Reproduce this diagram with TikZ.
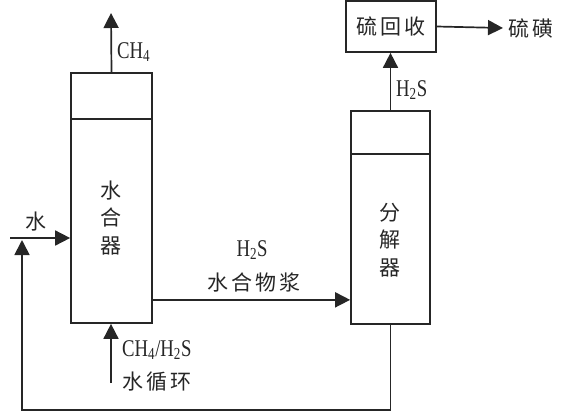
\documentclass[tikz,border=0pt]{standalone}
\usepackage{fontspec}
\setmainfont[FakeStretch=0.78]{Liberation Serif}
\newfontfamily\cjk[LetterSpace=15]{Noto Sans CJK SC}
\usetikzlibrary{arrows.meta}

\begin{document}
\begin{tikzpicture}[
  x=1pt, y=-1pt,
  vessel/.style={draw=black!85, line width=1.7pt, inner sep=0pt},
  arrow/.style={-{Triangle[length=15pt,width=15pt]}, line width=1.7pt, draw=black!85},
  zh/.style={font=\cjk\fontsize{21}{27.5}\selectfont, text=black!85},
  chem/.style={font=\fontsize{24}{28}\selectfont, text=black!85, inner sep=1pt}
]
\useasboundingbox (0,0) rectangle (568,413);

% Hydrator
\node[vessel, minimum width=81pt, minimum height=250pt] (hyd) at (111.5,198) {};
\draw[black!85, line width=1.7pt] ([yshift=-47pt]hyd.north west) -- ([yshift=-47pt]hyd.north east);
\node[zh, align=center] (hydtxt) at (111,218) {水\\合\\器};

% Decomposer
\node[vessel, minimum width=79pt, minimum height=213pt] (dec) at (390.5,217.5) {};
\draw[black!85, line width=1.7pt] ([yshift=-44pt]dec.north west) -- ([yshift=-44pt]dec.north east);
\node[zh, align=center] (dectxt) at (390,240) {分\\解\\器};

% Sulfur recovery
\node[vessel, zh, minimum width=90pt, minimum height=51pt] (rec) at (391,26.5) {硫回收};
\node[zh, anchor=west, inner xsep=5pt] (sulfur) at (503,28) {硫磺};

% Streams
\coordinate (gasout) at (111,13);
\coordinate (win) at (10,238);
\coordinate (feed) at (111,383);
\coordinate (ret) at (22,240);
\coordinate (slurry) at ([yshift=24pt]hyd.south east);

\draw[arrow] (hyd.north) -- (gasout);
\node[chem, anchor=west] (ch4) at (116,52) {CH\textsubscript{4}};

\draw[arrow] (win) -- (win -| hyd.west);
\node[zh] (water) at (36,222) {水};

\draw[arrow] (feed) -- (feed |- hyd.south);
\node[chem, anchor=west] (feedgas) at (121,350) {CH\textsubscript{4}/H\textsubscript{2}S};
\node[zh, anchor=west, inner xsep=1pt] (feedwater) at (121,382) {水循环};

\draw[arrow] (slurry) -- (slurry -| dec.west);
\node[chem] (slurrygas) at (252,250) {H\textsubscript{2}S};
\node[zh] (slurrytxt) at (254,282) {水合物浆};

\draw[arrow] (dec.north) -- (dec.north |- rec.south);
\node[chem, anchor=west] (h2s) at (395,90) {H\textsubscript{2}S};

\draw[arrow] (rec.east) -- (sulfur.west);

\draw[arrow] (dec.south) -- ++(0,85) -| (ret);

\end{tikzpicture}
\end{document}
